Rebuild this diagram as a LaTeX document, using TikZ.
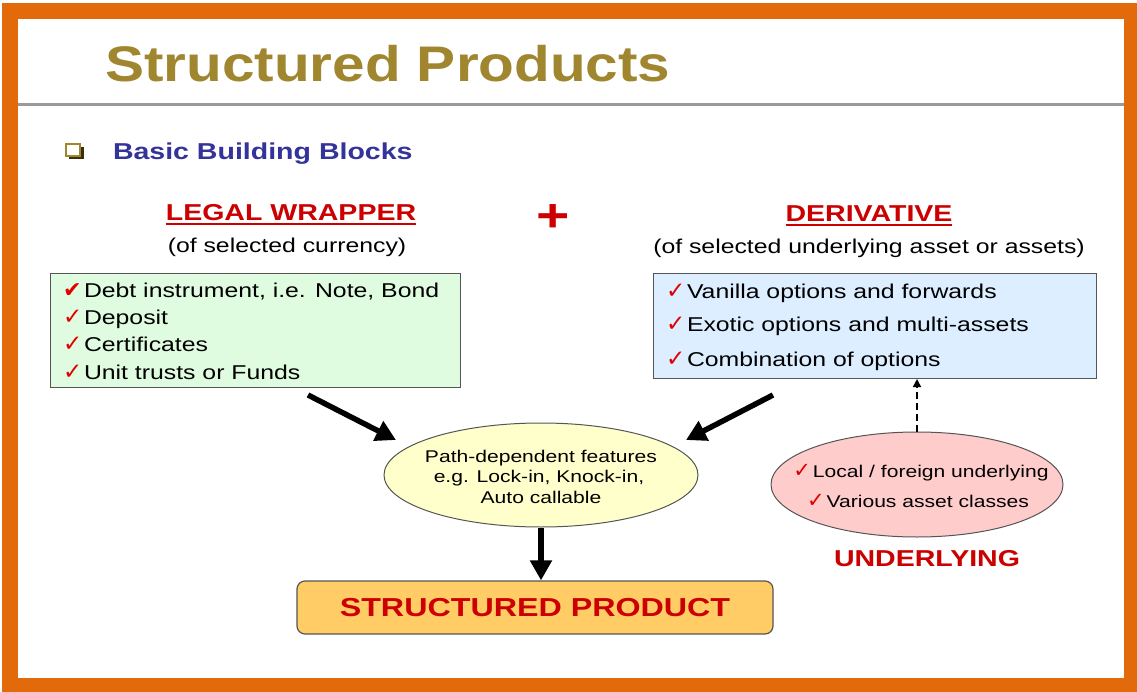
\documentclass[tikz,border=0pt]{standalone}
\usepackage{fontspec}
\setmainfont{Liberation Sans}[FakeStretch=1.24]
\newfontfamily\titlefont{Liberation Sans}[FakeStretch=1.17]
\newfontfamily\chkfont{DejaVu Sans}
\usetikzlibrary{arrows.meta,shapes.geometric,calc}
\definecolor{frameorange}{HTML}{E36A0A}
\definecolor{titlegold}{HTML}{A0862E}
\definecolor{navy}{HTML}{333399}
\definecolor{hred}{HTML}{CC0000}
\definecolor{chkred}{HTML}{E00000}
\definecolor{boxgreen}{HTML}{E0FCE0}
\definecolor{boxblue}{HTML}{DCEEFF}
\definecolor{ellyellow}{HTML}{FFFFCC}
\definecolor{ellpink}{HTML}{FFCCCC}
\definecolor{prodfill}{HTML}{FFCC66}
\definecolor{edgegray}{HTML}{555555}
\definecolor{rulegray}{HTML}{9A9A9A}
% check marks: #1 = box width, #2 = glyph size, #3 = glyph
\newcommand\ckmark[3]{\makebox[#1][l]{\chkfont\fontsize{#2}{#2}\selectfont\color{chkred}#3}}
\newcommand\ckh{\ckmark{21pt}{22pt}{✔}}
\newcommand\ck{\ckmark{21pt}{23pt}{✓}}
\newcommand\cks{\ckmark{19.5pt}{21pt}{✓}}
\begin{document}
\begin{tikzpicture}[x=1pt,y=-1pt,
  txt/.style={inner sep=0pt,outer sep=0pt},
  listtxt/.style={txt,anchor=base west,font=\fontsize{20}{24}\selectfont},
  smalltxt/.style={txt,anchor=base,font=\fontsize{17}{21}\selectfont},
  headtxt/.style={txt,anchor=base,text=hred,font=\bfseries\fontsize{23}{27}\selectfont},
  subtxt/.style={txt,anchor=base,font=\fontsize{20}{24}\selectfont},
  listbox/.style={draw=edgegray,line width=1pt,anchor=north west,inner sep=0pt},
  ellbox/.style={ellipse,draw=edgegray,line width=1pt,inner sep=0pt},
  prodbox/.style={draw=edgegray,line width=1.2pt,fill=prodfill,rounded corners=8pt,inner sep=0pt,
    text=hred,font=\bfseries\fontsize{26}{30}\selectfont},
  bigarrow/.style={line width=5.5pt,-{Triangle[length=20pt,width=21pt]}},
  dasharrow/.style={line width=1.5pt,dash pattern=on 7pt off 4pt,-{Triangle[length=8pt,width=8pt]}},
  uline/.style={hred,line width=2.5pt}
]
\useasboundingbox (0,0) rectangle (1137,692);
% frame
\fill[frameorange] (2,3) rectangle (1137,692);
\fill[white] (18,19) rectangle (1124,678);
% title
\node[txt,anchor=base west,text=titlegold,font=\titlefont\bfseries\fontsize{50}{54}\selectfont] (title) at (105,82) {Structured Products};
\draw[rulegray,line width=3pt] (18,104.5) -- (1124,104.5);
% bullet
\fill[black!65!titlegold] (69,147) rectangle (84,159);
\filldraw[fill=white,draw=titlegold,line width=2pt] (66,144) rectangle (80,156);
\node[txt,anchor=base west,text=navy,font=\bfseries\fontsize{23}{27}\selectfont] (bbb) at (113,160) {Basic Building Blocks};
% headings
\node[headtxt] (lw) at (291,221) {LEGAL WRAPPER};
\draw[uline] ($(lw.base west)+(0,3)$) -- ($(lw.base east)+(0,3)$);
\node[subtxt] (lwsub) at (287,253) {(of selected currency)};
\node[txt,anchor=base,text=hred,font=\bfseries\fontsize{46}{50}\selectfont] (plus) at (553,232) {+};
\node[headtxt] (der) at (869,222) {DERIVATIVE};
\draw[uline] ($(der.base west)+(0,3)$) -- ($(der.base east)+(0,3)$);
\node[subtxt] (dersub) at (869,254) {(of selected underlying asset or assets)};
% legal wrapper box
\node[listbox,fill=boxgreen,minimum width=410pt,minimum height=114pt] (legal) at (50,273) {};
\node[listtxt] (l1) at (63,298) {\ckh Debt instrument, i.e. Note, Bond};
\node[listtxt] (l2) at (63,325) {\ck Deposit};
\node[listtxt] (l3) at (63,352) {\ck Certificates};
\node[listtxt] (l4) at (63,379) {\ck Unit trusts or Funds};
% derivative box
\node[listbox,fill=boxblue,minimum width=443pt,minimum height=105pt] (deriv) at (653,273) {};
\node[listtxt] (d1) at (666,299) {\ck Vanilla options and forwards};
\node[listtxt] (d2) at (666,332) {\ck Exotic options and multi-assets};
\node[listtxt] (d3) at (666,366) {\ck Combination of options};
% path-dependent ellipse
\node[ellbox,fill=ellyellow,minimum width=314pt,minimum height=104pt] (path) at (541,475) {};
\node[smalltxt] (p1) at (541,462) {Path-dependent features};
\node[smalltxt] (p2) at (539,482) {e.g. Lock-in, Knock-in,};
\node[smalltxt] (p3) at (541,503) {Auto callable};
% underlying ellipse
\node[ellbox,fill=ellpink,minimum width=292pt,minimum height=105pt] (under) at (917,484.5) {};
\node[smalltxt] (u1) at (921,477) {\cks Local / foreign underlying};
\node[smalltxt] (u2) at (918,507) {\cks Various asset classes};
\node[headtxt] (ul) at (927,566) {UNDERLYING};
% product box
\node[prodbox,minimum width=476pt,minimum height=53pt] (prod) at (535,607.5) {STRUCTURED PRODUCT};
% arrows
\coordinate (la1) at (308,395);
\coordinate (la2) at (396,440);
\coordinate (ra1) at (773,395);
\coordinate (ra2) at (686,440);
\draw[bigarrow] (la1) -- (la2);
\draw[bigarrow] (ra1) -- (ra2);
\draw[bigarrow] (path.south) -- (path.south |- prod.north);
\draw[dasharrow] (under.north) -- (under.north |- deriv.south);
\end{tikzpicture}
\end{document}
